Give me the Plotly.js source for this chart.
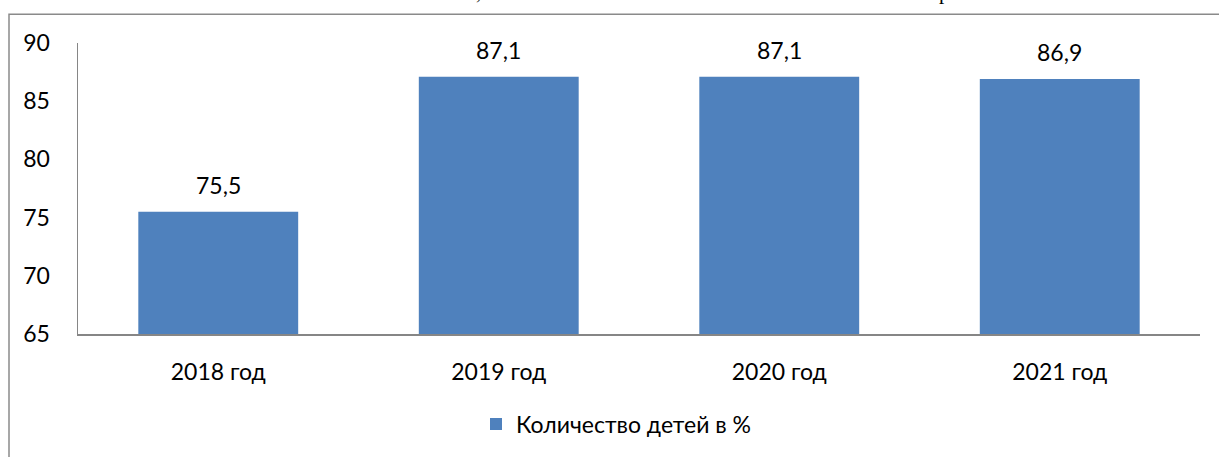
<!DOCTYPE html>
<html>
<head>
<meta charset="utf-8">
<script src="https://cdn.plot.ly/plotly-3.0.1.min.js"></script>
<style>
  html, body { margin: 0; padding: 0; background: #fff; }
  #chart { width: 1219px; height: 457px; }
</style>
</head>
<body>
<div id="chart"></div>
<script>
"use strict";
// Chart data
const categories = ['2018 год', '2019 год', '2020 год', '2021 год'];
const values = [75.5, 87.1, 87.1, 86.9];
const seriesName = 'Количество детей в %';
const yTicks = [65, 70, 75, 80, 85, 90];

const barColor = '#4f81bd';
const axisColor = '#868686';
const font = 'Lato, "Open Sans", sans-serif';
const fsize = 23;

// plot area in pixels (used to turn pixel spots into paper coords)
const W = 1219, H = 457;
const mL = 78, mR = 19, mT = 43, mB = 120;
const pw = W - mL - mR, ph = H - mT - mB;
function px(x) { return (x - mL) / pw; }
function py(y) { return (H - mB - y) / ph; }

let trace = {
  type: 'bar',
  x: categories,
  y: values,
  name: seriesName,
  marker: {color: barColor},
  width: 0.57,
  showlegend: true,
  hoverinfo: 'x+y'
};

// value labels above bars
let labels = categories.map((c, i) => ({
  x: c, y: values[i], xref: 'x', yref: 'y',
  text: values[i].toFixed(1).replace('.', ','),
  showarrow: false, yanchor: 'middle', yshift: 27,
  font: {family: font, size: fsize, color: '#000'}
}));

// bits of the cut-off line above the frame
labels.push({text: ',', xref: 'paper', yref: 'paper', x: px(478), y: py(6),
             xanchor: 'center', yanchor: 'bottom', showarrow: false,
             font: {family: '"Liberation Serif", serif', size: 21, color: '#000'}});
labels.push({text: 'р', xref: 'paper', yref: 'paper', x: px(944), y: py(6),
             xanchor: 'center', yanchor: 'bottom', showarrow: false,
             font: {family: '"Liberation Serif", serif', size: 21, color: '#000'}});

let layout = {
  width: W, height: H,
  margin: {l: mL, r: mR, t: mT, b: mB, pad: 0},
  paper_bgcolor: '#fff', plot_bgcolor: '#fff',
  font: {family: font, size: fsize, color: '#000'},
  showlegend: true,
  legend: {orientation: 'h', x: px(476), xanchor: 'left', y: py(428), yanchor: 'middle',
           font: {family: font, size: fsize, color: '#000'}, bgcolor: 'rgba(0,0,0,0)'},
  xaxis: {
    type: 'category', showgrid: false, zeroline: false,
    showline: true, linecolor: axisColor, linewidth: 1.5,
    ticks: '', ticklabelstandoff: 17, fixedrange: true
  },
  yaxis: {
    range: [65, 90], tickvals: yTicks, showgrid: false, zeroline: false,
    showline: true, linecolor: axisColor, linewidth: 1.5,
    ticks: '', ticklabelstandoff: 22, fixedrange: true
  },
  annotations: labels,
  shapes: [{
    type: 'rect', xref: 'paper', yref: 'paper',
    x0: px(9), x1: px(1240), y0: py(14), y1: py(480),
    line: {color: '#8a8a8a', width: 1.5}, fillcolor: 'rgba(0,0,0,0)', layer: 'below'
  }]
};

Plotly.newPlot('chart', [trace], layout, {displayModeBar: false, staticPlot: true});
</script>
</body>
</html>
